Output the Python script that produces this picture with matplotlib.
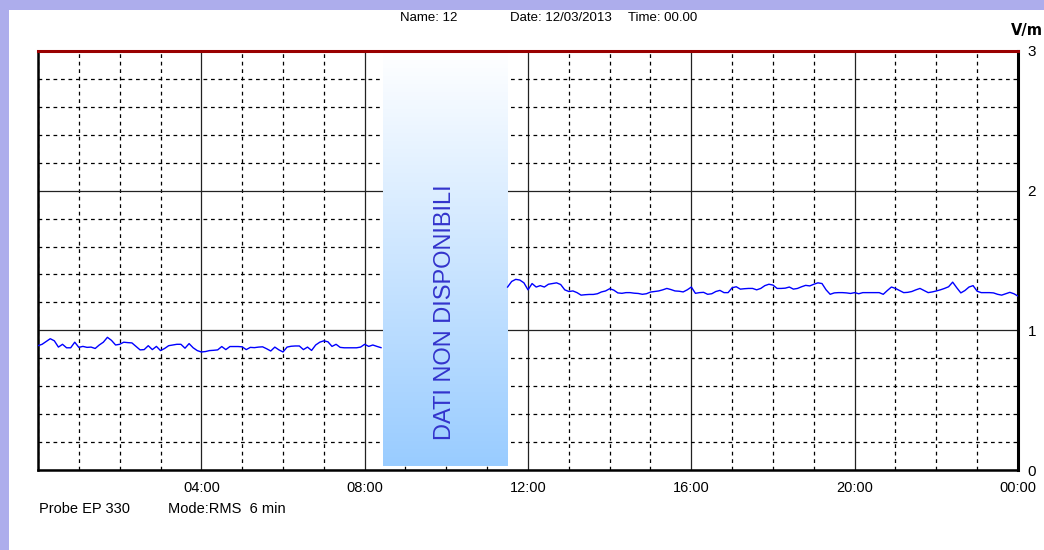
import numpy as np
import matplotlib
matplotlib.use('Agg')
import matplotlib.pyplot as plt
from matplotlib.ticker import MultipleLocator, FixedLocator
from matplotlib.patches import Rectangle
from matplotlib.colors import LinearSegmentedColormap

plt.rcParams['font.family'] = ['Liberation Sans', 'DejaVu Sans']

# RMS field values (V/m), one every 6 min
t1_start = 0.0
vals1 = [0.89, 0.90, 0.92, 0.94, 0.925, 0.88, 0.90, 0.875, 0.875, 0.915,
         0.878, 0.885, 0.878, 0.88, 0.87, 0.895, 0.915, 0.95, 0.928, 0.895,
         0.90, 0.915, 0.912, 0.91, 0.885, 0.86, 0.862, 0.89, 0.862, 0.885,
         0.855, 0.87, 0.89, 0.895, 0.90, 0.90, 0.872, 0.905, 0.875, 0.855,
         0.845, 0.848, 0.855, 0.857, 0.86, 0.884, 0.862, 0.884, 0.884, 0.884,
         0.882, 0.862, 0.878, 0.876, 0.88, 0.882, 0.868, 0.852, 0.88, 0.86,
         0.845, 0.88, 0.886, 0.888, 0.888, 0.862, 0.88, 0.856, 0.895, 0.915,
         0.925, 0.918, 0.885, 0.90, 0.878, 0.875, 0.875, 0.875, 0.875, 0.88,
         0.90, 0.885, 0.895, 0.885, 0.876]

t2_start = 11.5
vals2 = [1.31, 1.35, 1.365, 1.36, 1.34, 1.29, 1.335, 1.31, 1.32, 1.31,
         1.33, 1.335, 1.34, 1.328, 1.29, 1.278, 1.282, 1.27, 1.252, 1.255,
         1.257, 1.257, 1.262, 1.275, 1.282, 1.298, 1.288, 1.268, 1.265, 1.27,
         1.27, 1.266, 1.264, 1.258, 1.262, 1.274, 1.278, 1.282, 1.29, 1.30,
         1.292, 1.282, 1.28, 1.275, 1.29, 1.31, 1.265, 1.27, 1.272, 1.258,
         1.262, 1.278, 1.286, 1.27, 1.27, 1.305, 1.312, 1.295, 1.298, 1.30,
         1.30, 1.29, 1.30, 1.32, 1.33, 1.324, 1.30, 1.30, 1.302, 1.31,
         1.295, 1.30, 1.312, 1.322, 1.318, 1.33, 1.34, 1.335, 1.29, 1.258,
         1.268, 1.27, 1.27, 1.268, 1.264, 1.27, 1.262, 1.27, 1.27, 1.27,
         1.27, 1.27, 1.258, 1.285, 1.31, 1.30, 1.285, 1.27, 1.272, 1.278,
         1.29, 1.30, 1.285, 1.27, 1.275, 1.282, 1.29, 1.30, 1.312, 1.345,
         1.305, 1.268, 1.285, 1.31, 1.32, 1.28, 1.27, 1.27, 1.27, 1.268,
         1.258, 1.252, 1.262, 1.272, 1.262, 1.245]

step = 0.1  # hours (6 min)
gap_start, gap_end = 8.45, 11.49    # no data in this window
gap_label = 'DATI NON DISPONIBILI'

xtick_pos = [4, 8, 12, 16, 20, 24]
xtick_labels = ['04:00', '08:00', '12:00', '16:00', '20:00', '00:00']
ytick_pos = [0, 1, 2, 3]

t1 = t1_start + step * np.arange(len(vals1))
t2 = t2_start + step * np.arange(len(vals2))

W, H = 1044, 550
fig = plt.figure(figsize=(W / 100, H / 100), dpi=100, facecolor='#adadec')
# white panel inside the lavender frame
fig.patches.append(Rectangle((9 / W, 0), 1, 1 - 10 / H, transform=fig.transFigure,
                             facecolor='white', edgecolor='none', zorder=-10))

ax = fig.add_axes([38 / W, 80 / H, 980 / W, 419 / H])
ax.set_facecolor('white')
ax.set_xlim(0, 24)
ax.set_ylim(0, 3)

ax.xaxis.set_major_locator(FixedLocator(xtick_pos))
ax.set_xticklabels(xtick_labels)
ax.xaxis.set_minor_locator(MultipleLocator(1))
ax.yaxis.set_major_locator(FixedLocator(ytick_pos))
ax.yaxis.set_minor_locator(MultipleLocator(0.2))
ax.yaxis.tick_right()
ax.tick_params(which='both', length=0)
ax.tick_params(axis='x', pad=8, labelsize=10.5)
ax.tick_params(axis='y', pad=7, labelsize=11)

ax.set_axisbelow(True)
ax.grid(which='major', color='#222222', lw=0.9, ls='-')
ax.grid(which='minor', color='black', lw=0.9, ls=(0, (3, 3)))

for side in ['left', 'bottom']:
    ax.spines[side].set_color('black')
    ax.spines[side].set_linewidth(1.8)
ax.spines['right'].set_color('black')
ax.spines['right'].set_linewidth(2.2)
ax.spines['top'].set_color('#990000')
ax.spines['top'].set_linewidth(2.2)

# gap box with vertical gradient
cmap = LinearSegmentedColormap.from_list('gap', ['#99ccff', '#ffffff'])
grad = np.linspace(0, 1, 256).reshape(-1, 1)
ax.imshow(grad, aspect='auto', cmap=cmap, origin='lower',
          extent=[gap_start, gap_end, 0.03, 3.0], zorder=2)
ax.text((gap_start + gap_end) / 2, 1.13, gap_label, rotation=90,
        ha='center', va='center', fontsize=17, color='#3333cc', zorder=4)

ax.plot(t1, vals1, color='#0000ff', lw=1, zorder=3)
ax.plot(t2, vals2, color='#0000ff', lw=1, zorder=3)

fig.text(400 / W, 1 - 18 / H, 'Name: 12', fontsize=9.5, va='center')
fig.text(510 / W, 1 - 18 / H, 'Date: 12/03/2013', fontsize=9.5, va='center')
fig.text(628 / W, 1 - 18 / H, 'Time: 00.00', fontsize=9.5, va='center')
fig.text(1011 / W, 1 - 30 / H, 'V/m', fontsize=10.5, fontweight='bold',
         family=['DejaVu Sans'], va='center')
fig.text(39 / W, 1 - 509 / H, 'Probe EP 330', fontsize=10.5, va='center')
fig.text(168 / W, 1 - 509 / H, 'Mode:RMS  6 min', fontsize=10.5, va='center')

fig.savefig('out.png', dpi=100, facecolor=fig.get_facecolor())
